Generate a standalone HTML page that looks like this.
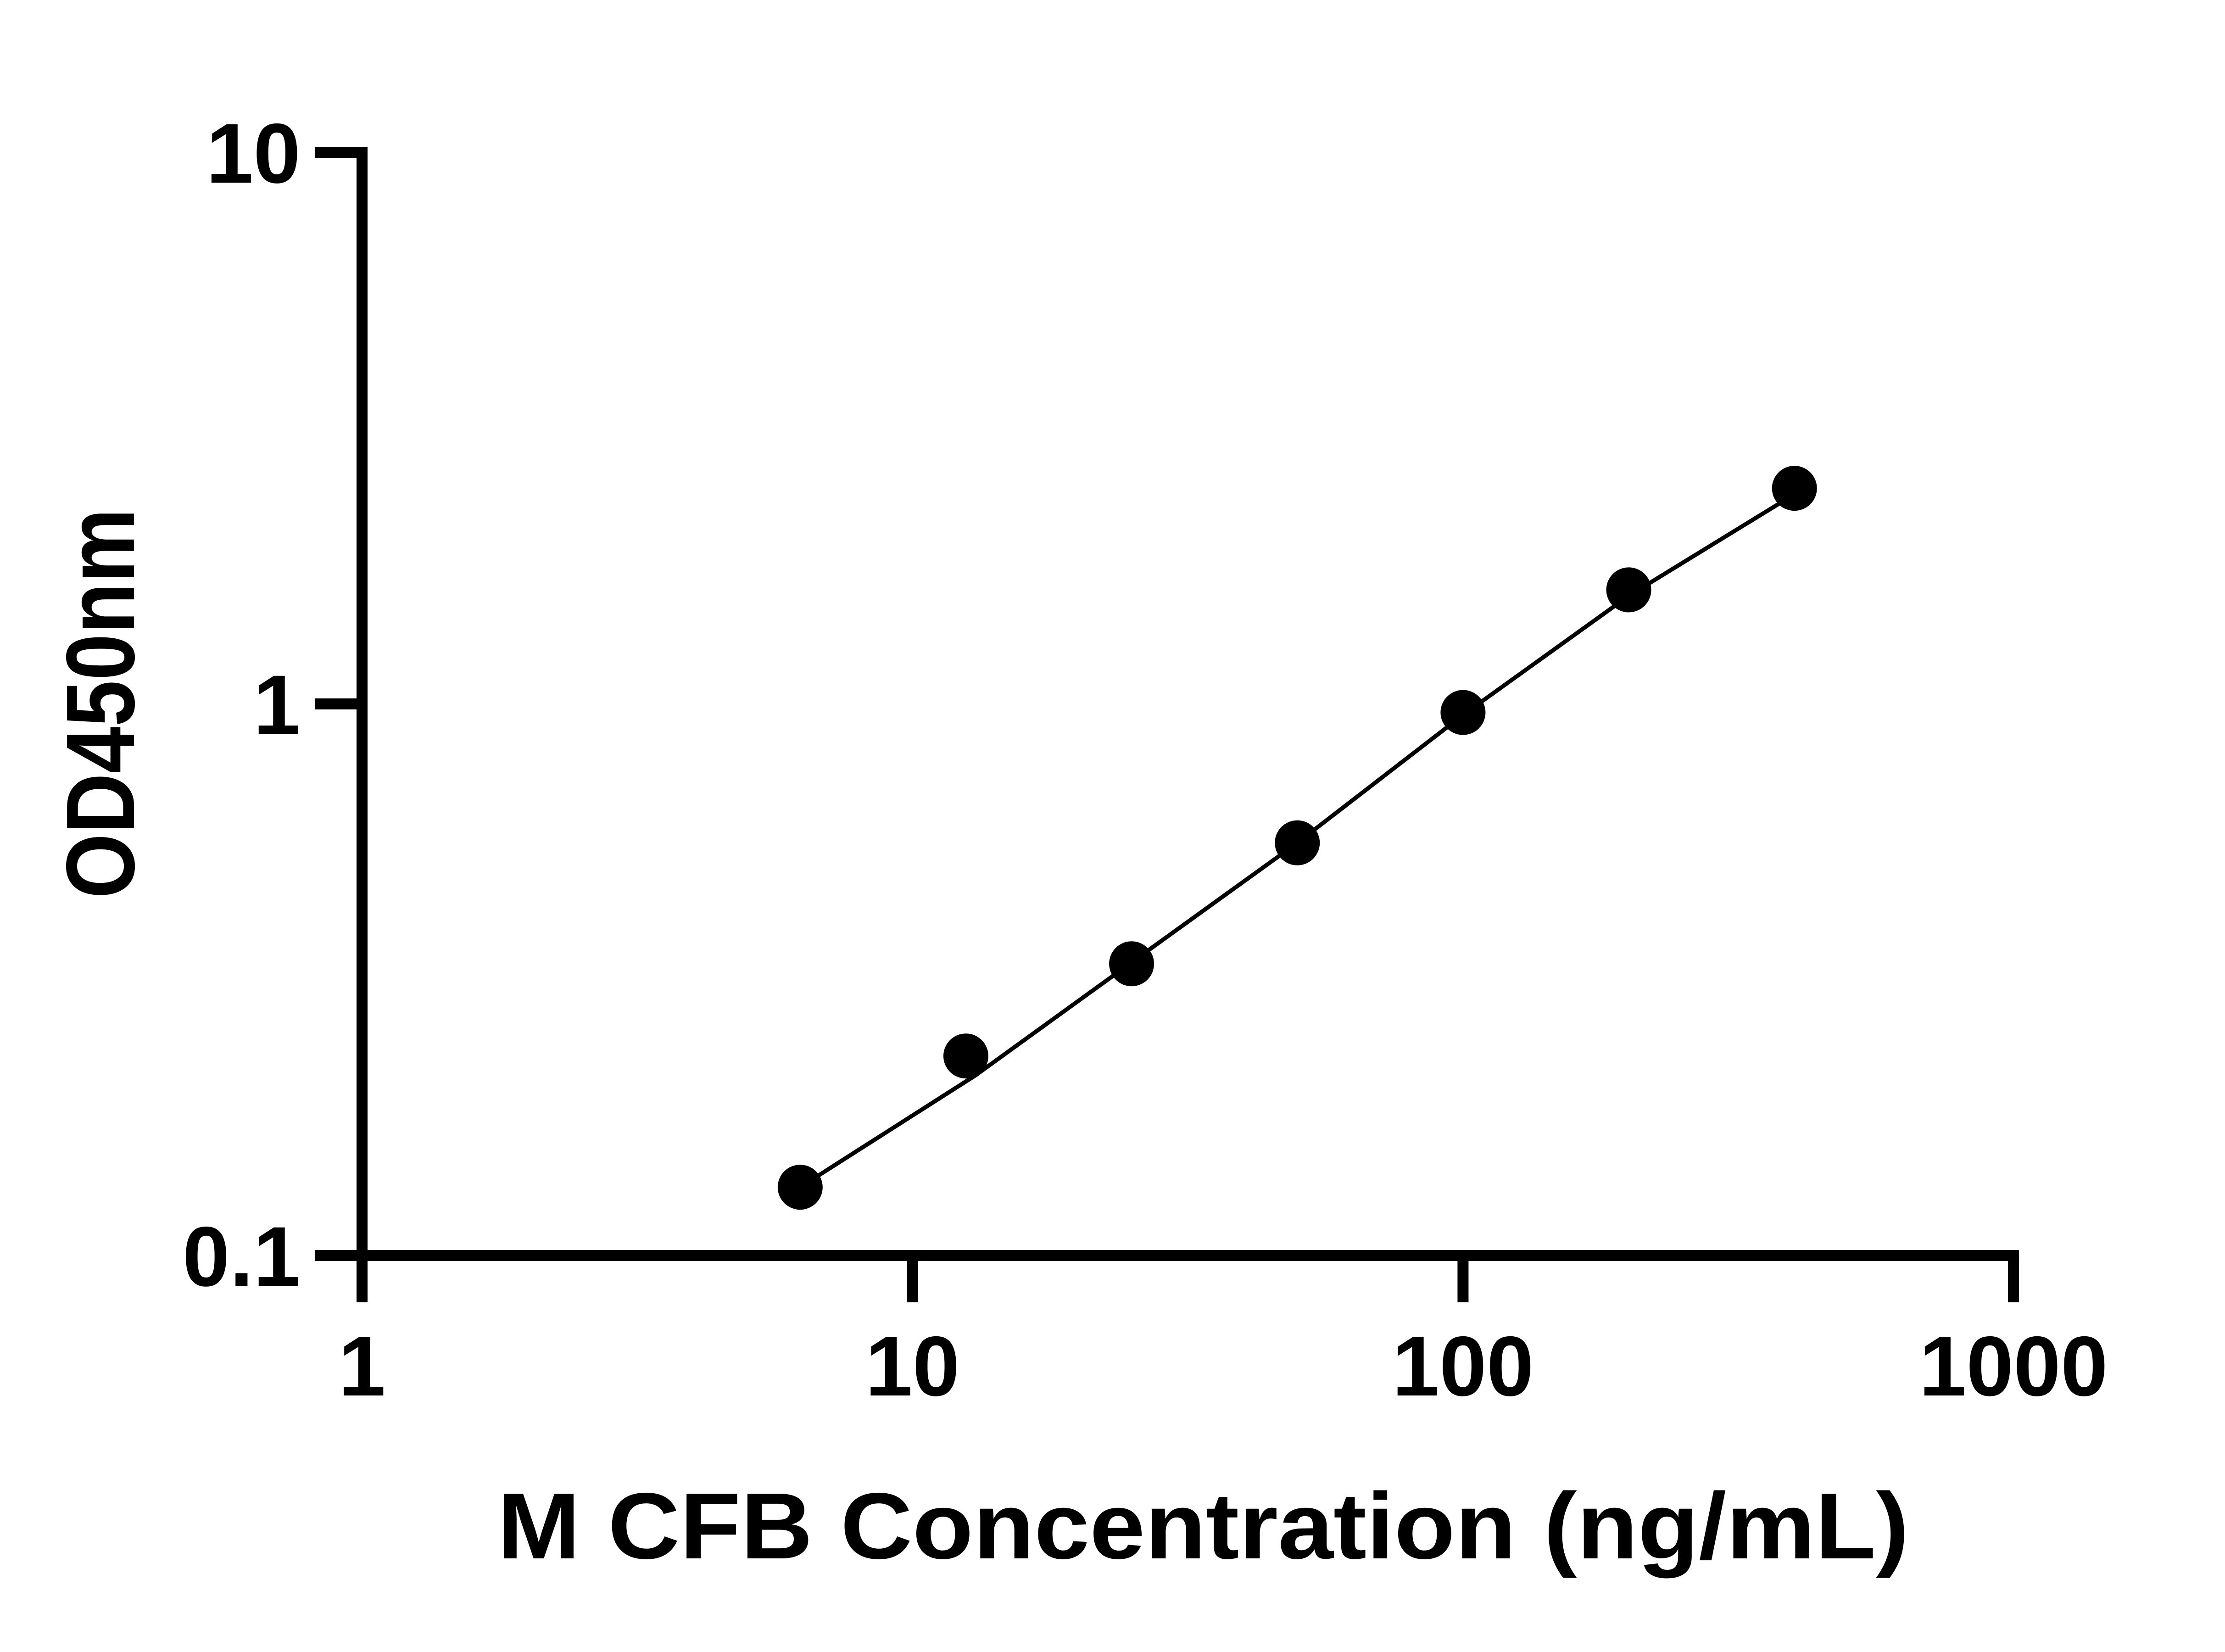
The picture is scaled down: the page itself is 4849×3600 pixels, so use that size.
<!DOCTYPE html>
<html><head><meta charset="utf-8"><style>
html,body{margin:0;padding:0;background:#fff}
svg{display:block}
text{font-family:"Liberation Sans",Arial,sans-serif;font-weight:bold;fill:#000}
</style></head><body>
<svg id="chart" width="4849" height="3600" viewBox="0 0 4849 3600" xmlns="http://www.w3.org/2000/svg">
<g id="axes"></g>
<g id="fit"></g>
<g id="pts"></g>
<text transform="translate(292,1533) rotate(-90)" text-anchor="middle" font-size="212" textLength="850" lengthAdjust="spacingAndGlyphs">OD450nm</text>
<text x="2622" y="3396" text-anchor="middle" font-size="205" textLength="3077" lengthAdjust="spacingAndGlyphs">M CFB Concentration (ng/mL)</text>
</svg>
<script>
const concentrations = [6.25, 12.5, 25, 50, 100, 200, 400];
const odValues = [0.133, 0.230, 0.338, 0.56, 0.965, 1.61, 2.46];
const fitX = [6.25, 13, 25, 50, 100, 200, 400];
const fitY = [0.133, 0.212, 0.34, 0.56, 0.955, 1.57, 2.4];
const xTicks = [1, 10, 100, 1000];
const xTickLabels = ["1", "10", "100", "1000"];
const yTicks = [0.1, 1, 10];
const yTickLabels = ["0.1", "1", "10"];

const X0 = 789, XDEC = 1199.7, Y0 = 2736, YDEC = 1202;
function sx(v){ return X0 + Math.log10(v) * XDEC; }
function sy(v){ return Y0 - (Math.log10(v) + 1) * YDEC; }
const NS = "http://www.w3.org/2000/svg";
function mk(tag, attrs, parent){
  const e = document.createElementNS(NS, tag);
  for (const k in attrs) e.setAttribute(k, attrs[k]);
  parent.appendChild(e); return e;
}
const axes = document.getElementById('axes');
const yAxis = mk('line', {x1:sx(1), y1:sy(10)-12, x2:sx(1), y2:Y0+102, stroke:'#000','stroke-width':24}, axes);


const xAxis = mk('line', {x1:687, y1:Y0, x2:sx(1000)+12, y2:Y0, stroke:'#000','stroke-width':24}, axes);


yTicks.forEach((v,i)=>{
  const y = sy(v);
  const t = mk('line', {x1:687, y1:y, x2:sx(1), y2:y, stroke:'#000','stroke-width':24}, axes);
  
  
  const l = mk('text', {x:655, y:y+66, 'text-anchor':'end', 'font-size':185}, axes);
  l.textContent = yTickLabels[i];
  
  
});
xTicks.forEach((v,i)=>{
  const x = sx(v);
  const t = mk('line', {x1:x, y1:Y0, x2:x, y2:Y0+102, stroke:'#000','stroke-width':24}, axes);
  
  
  const l = mk('text', {x:x, y:3041, 'text-anchor':'middle', 'font-size':185}, axes);
  l.textContent = xTickLabels[i];
  
  
});
const fitG = document.getElementById('fit');
const d = fitX.map((v,i)=>(i?'L':'M')+sx(v).toFixed(1)+' '+sy(fitY[i]).toFixed(1)).join(' ');
const path = mk('path', {d:d, fill:'none', stroke:'#000','stroke-width':9,'stroke-linejoin':'round'}, fitG);


const ptsG = document.getElementById('pts');
concentrations.forEach((c,i)=>{
  const p = mk('circle', {cx:sx(c), cy:sy(odValues[i]), r:49, fill:'#000'}, ptsG);
  
  
});
</script>
</body></html>
